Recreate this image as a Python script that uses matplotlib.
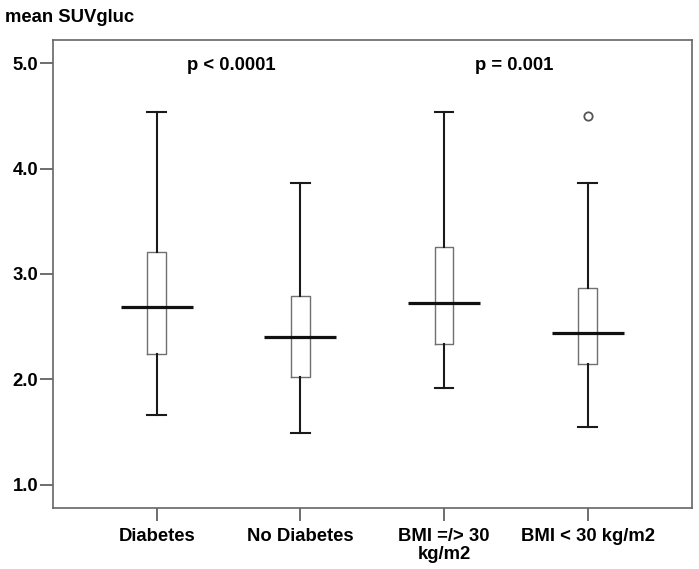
import matplotlib
matplotlib.use("Agg")
import matplotlib.pyplot as plt
import numpy as np

# ---- data ----
categories = ["Diabetes", "No Diabetes", "BMI =/> 30\nkg/m2", "BMI < 30 kg/m2"]
whislo = [1.66, 1.49, 1.92, 1.55]
q1 = [2.24, 2.02, 2.34, 2.15]
median = [2.69, 2.40, 2.72, 2.44]
q3 = [3.21, 2.79, 3.26, 2.87]
whishi = [4.54, 3.86, 4.54, 3.86]
fliers = [[], [], [], [4.50]]
y_ticks = [1.0, 2.0, 3.0, 4.0, 5.0]
p_labels = ["p < 0.0001", "p = 0.001"]
p_x = [1.52, 3.49]
p_y = [4.935, 4.935]
y_label = "mean SUVgluc"

plt.rcParams['font.family'] = ['Liberation Sans', 'DejaVu Sans']
plt.rcParams['font.weight'] = 'bold'
FS = 13.3

fig = plt.figure(figsize=(6.99, 5.69), dpi=100)
ax = fig.add_axes([53 / 699, 1 - 508 / 569, (691.7 - 53) / 699, (508 - 40) / 569])

positions = np.arange(1, len(categories) + 1)
stats = []
for i in range(len(categories)):
    stats.append(dict(med=median[i], q1=q1[i], q3=q3[i], whislo=whislo[i],
                      whishi=whishi[i], fliers=fliers[i], label=categories[i]))

ax.bxp(stats, positions=positions, widths=0.13, showfliers=True,
       boxprops=dict(color='#707070', linewidth=1.0),
       whiskerprops=dict(color='#1a1a1a', linewidth=1.5),
       capprops=dict(color='#1a1a1a', linewidth=1.5),
       capwidths=0.13,
       medianprops=dict(linewidth=0),
       flierprops=dict(marker='o', markersize=6, markerfacecolor='white',
                       markeredgecolor='#555555', markeredgewidth=1.3))

ax.hlines(median, positions - 0.25, positions + 0.25, colors='#111111', linewidth=2.3, zorder=3)

ax.set_xlim(1 - 0.722, 4 + 0.724)
ax.set_ylim(1 - 23.3 / 105.4, 5 + 23.3 / 105.4)
ax.set_yticks(y_ticks)
ax.set_yticklabels([f"{v:.1f}" for v in y_ticks], fontsize=FS, fontweight='bold')
ax.set_xticks(positions)
ax.set_xticklabels(categories, fontsize=FS, fontweight='bold', linespacing=1.07)

for s in ax.spines.values():
    s.set_color('#666666')
    s.set_linewidth(1.2)
ax.tick_params(axis='both', color='#555555', width=1.2, length=9.5)
ax.tick_params(axis='y', pad=1)
ax.tick_params(axis='x', pad=5)

for txt, x, y in zip(p_labels, p_x, p_y):
    ax.text(x, y, txt, ha='center', va='baseline', fontsize=FS, fontweight='bold')

fig.text(5 / 699, 1 - 21.5 / 569, y_label, ha='left', va='baseline', fontsize=FS, fontweight='bold')

fig.savefig("out.png", dpi=100, facecolor='white')
